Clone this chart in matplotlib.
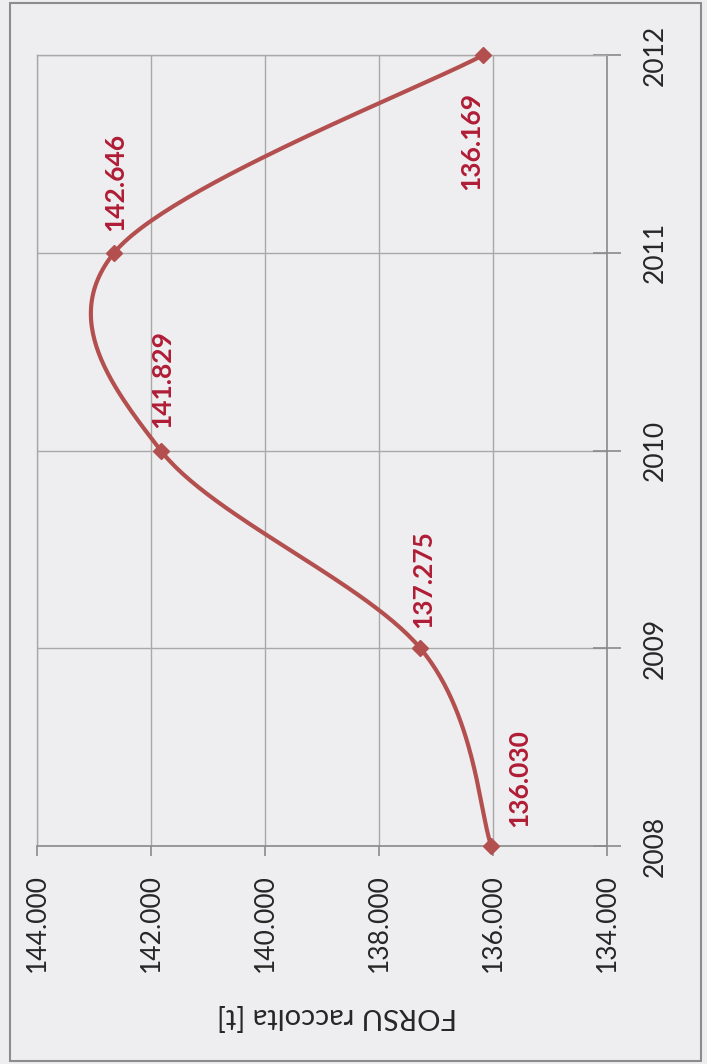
import numpy as np
import matplotlib
matplotlib.use('Agg')
import matplotlib.pyplot as plt
from matplotlib.patches import Rectangle

# dati: FORSU raccolta per anno
anni = [2008, 2009, 2010, 2011, 2012]
valori = [136.030, 137.275, 141.829, 142.646, 136.169]
etichette = ['136.030', '137.275', '141.829', '142.646', '136.169']
tick_valori = [134, 136, 138, 140, 142, 144]
tick_testi = ['134.000', '136.000', '138.000', '140.000', '142.000', '144.000']
titolo_asse = 'FORSU raccolta [t]'

# spostamento delle etichette in pixel (dx, dy, allineamento verticale)
spostamenti = [(28, 19, 'bottom'), (3, 20, 'bottom'), (2, 22, 'bottom'),
               (1, 22, 'bottom'), (-12, -37, 'top')]

plt.rcParams['font.family'] = ['Lato', 'DejaVu Sans']

sfondo = '#eeeef0'
griglia = '#a8a8a8'
rosso_linea = '#b3504f'
rosso_testo = '#b01c35'


def curva_liscia(xs, ys, passi=60):
    # bezier come la linea "smussata" di Excel
    xs = np.asarray(xs, float)
    ys = np.asarray(ys, float)
    n = len(xs)
    px, py = [], []
    for i in range(n - 1):
        a = max(i - 1, 0)
        b = min(i + 2, n - 1)
        c1x = xs[i] + (xs[i + 1] - xs[a]) / 6
        c1y = ys[i] + (ys[i + 1] - ys[a]) / 6
        c2x = xs[i + 1] - (xs[b] - xs[i]) / 6
        c2y = ys[i + 1] - (ys[b] - ys[i]) / 6
        t = np.linspace(0, 1, passi)
        k0 = (1 - t) ** 3
        k1 = 3 * (1 - t) ** 2 * t
        k2 = 3 * (1 - t) * t ** 2
        k3 = t ** 3
        px.extend(k0 * xs[i] + k1 * c1x + k2 * c2x + k3 * xs[i + 1])
        py.extend(k0 * ys[i] + k1 * c1y + k2 * c2y + k3 * ys[i + 1])
    return np.array(px), np.array(py)


fig = plt.figure(figsize=(7.07, 10.64), dpi=100)
fig.patch.set_facecolor(sfondo)
ax = fig.add_axes([37 / 707, 218 / 1064, 570 / 707, 791 / 1064])
ax.set_facecolor(sfondo)

# grafico ruotato: anni in verticale, valori in orizzontale (invertito)
cx, cy = curva_liscia(anni, valori)
ax.plot(cy, cx, color=rosso_linea, lw=3, solid_capstyle='round', zorder=3,
        clip_on=False)
ax.plot(valori, anni, linestyle='none', marker='D', ms=8,
        color=rosso_linea, zorder=4, clip_on=False)

for v, a, testo, (dx, dy, va) in zip(valori, anni, etichette, spostamenti):
    ax.annotate(testo, (v, a), xytext=(dx, dy), textcoords='offset pixels',
                rotation=90, ha='center', va=va, color=rosso_testo,
                fontsize=19, fontweight='bold', zorder=5)

ax.set_xlim(144, 134)
ax.set_ylim(2008, 2012)
ax.set_xticks(tick_valori)
ax.set_xticklabels(tick_testi, rotation=90, fontsize=19, color='#262626')
ax.set_yticks(anni)
ax.set_yticklabels([str(a) for a in anni], rotation=90, va='center',
                   fontsize=19, color='#262626')
ax.yaxis.tick_right()

ax.grid(True, color=griglia, lw=1)
ax.set_axisbelow(True)
for lato in ['top', 'left']:
    ax.spines[lato].set_color(griglia)
    ax.spines[lato].set_linewidth(1)
for lato in ['bottom', 'right']:
    ax.spines[lato].set_color('#8a8a8a')
    ax.spines[lato].set_linewidth(1.2)

ax.tick_params(axis='x', direction='out', length=7, width=1.2,
               color='#8a8a8a', pad=13)
ax.tick_params(axis='y', direction='inout', length=20, width=1.2,
               color='#8a8a8a', pad=16)

fig.text(337 / 707, 1 - 1016 / 1064, titolo_asse, rotation=180,
         ha='center', va='center', fontsize=21, color='#262626')

fig.patches.append(Rectangle((10 / 707, 3 / 1064), 691 / 707, 1058 / 1064,
                             transform=fig.transFigure, fill=False,
                             edgecolor='#8c8c8c', lw=1.5))

fig.savefig('out.png', dpi=100, facecolor=fig.get_facecolor())
